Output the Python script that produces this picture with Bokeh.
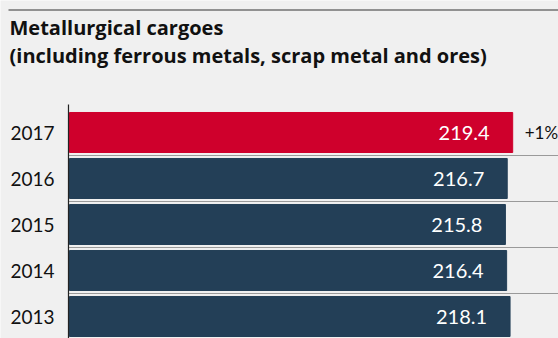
from bokeh.plotting import figure
from bokeh.models import Range1d, ColumnDataSource, Label
from bokeh.core.properties import value
from bokeh.embed import file_html
from bokeh.resources import INLINE

# ---- data ----
years = ["2013", "2014", "2015", "2016", "2017"]
volumes = [218.1, 216.4, 215.8, 216.7, 219.4]
changes = ["", "", "", "", "+1%"]
title_line1 = "Metallurgical cargoes"
title_line2 = "(including ferrous metals, scrap metal and ores)"

BG = "#f0f0f0"
NAVY = "#233f57"
RED = "#cf002c"
FONT = "Lato"
TITLE_FONT = "Open Sans"

W, H = 558, 338
PX_X = 2.02          # pixels per unit on the value axis
PX_Y = 46.0          # pixels per row
ZERO_PX = 69         # screen x of value 0
ROW0_PX = 22         # screen y (from bottom) of first row centre

x_start = -ZERO_PX / PX_X
x_end = x_start + W / PX_X
y_start = -ROW0_PX / PX_Y
y_end = y_start + H / PX_Y

rows = list(range(len(years)))
colors = [RED if y == years[-1] else NAVY for y in years]
src = ColumnDataSource(dict(
    y=rows, v=volumes, year=years, change=changes, color=colors,
    label=[f"{v:.1f}" for v in volumes],
))

p = figure(width=W, height=H, x_range=Range1d(x_start, x_end),
           y_range=Range1d(y_start, y_end), min_border=0,
           toolbar_location=None, output_backend="svg",
           x_axis_location=None, y_axis_location=None)
p.grid.visible = False
p.outline_line_color = None
p.background_fill_color = BG
p.border_fill_color = BG

# bars
p.hbar(y="y", left=0, right="v", height=0.87, color="color", source=src)

# dotted separators between rows
sep = [r + 0.5 for r in rows[:-1]]
p.segment(x0=[0] * len(sep), x1=[x_end] * len(sep), y0=sep, y1=sep,
          line_color="#444444", line_width=1, line_dash="1 1")

# vertical axis line
axis_x = -0.5
p.segment(x0=[axis_x], x1=[axis_x], y0=[y_start], y1=[rows[-1] + 0.61],
          line_color="#222222", line_width=1.2)

# year labels
p.text(x=axis_x, y="y", text="year", source=src, x_offset=-14,
       text_align="right", text_baseline="middle", text_color="#111111",
       text_font=value(FONT), text_font_size="19px")

# value labels inside bars
p.text(x="v", y="y", text="label", source=src, x_offset=-23,
       text_align="right", text_baseline="middle", text_color="white",
       text_font=value(FONT), text_font_size="20px")

# change labels
p.text(x="v", y="y", text="change", source=src, x_offset=12,
       text_align="left", text_baseline="middle", text_color="#111111",
       text_font=value(FONT), text_font_size="17px")

# top rule
rule_y = y_end - 9.5 / PX_Y
p.segment(x0=[x_start + 8 / PX_X], x1=[x_end], y0=[rule_y], y1=[rule_y],
          line_color="#333333", line_width=1.2)

# title
for txt, base in ((title_line1, 27), (title_line2, 54.5)):
    p.add_layout(Label(x=9, y=H - base, x_units="screen", y_units="screen",
                       text=txt, text_font=TITLE_FONT, text_font_size="20px",
                       text_font_style="bold", text_color="#111111",
                       text_baseline="alphabetic", text_align="left"))

open("out.html", "w").write(file_html(p, INLINE))
